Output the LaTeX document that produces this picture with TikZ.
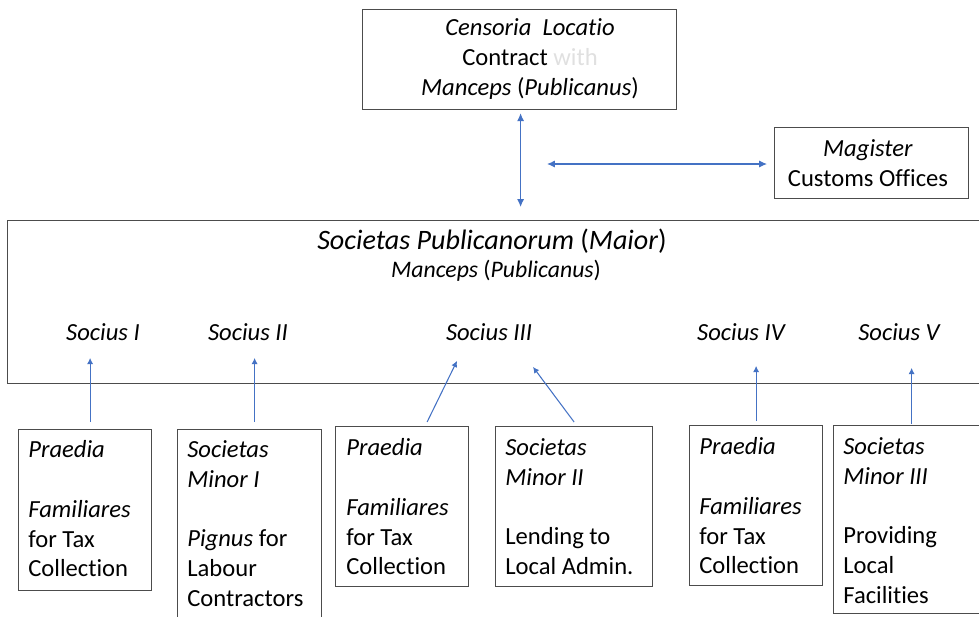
\documentclass[tikz,border=0pt]{standalone}
\usepackage{fontspec}
\setmainfont[Ligatures=NoCommon]{Carlito}
\usetikzlibrary{arrows.meta,calc}
\definecolor{arrowblue}{HTML}{4472C4}

\begin{document}
\begin{tikzpicture}[x=0.02cm,y=-0.02cm,
  frame/.style={draw=black!70,line width=0.7pt,inner sep=0pt,anchor=north west},
  body/.style={anchor=north west,align=left,inner sep=0pt,font=\fontsize{14pt}{17pt}\selectfont},
  socname/.style={inner sep=0pt,font=\fontsize{14pt}{17pt}\selectfont\itshape},
  link/.style={draw=arrowblue,line width=0.6pt,-{Latex[length=3.5pt,width=3.5pt]}},
  dlink/.style={draw=arrowblue,line width=0.6pt,{Latex[length=4.5pt,width=4pt]}-{Latex[length=4.5pt,width=4pt]}}]
\useasboundingbox (0,0) rectangle (979,616);
\clip (0,0) rectangle (979,616);

\node[frame,minimum width=6.28cm,minimum height=2cm] (cens) at (362,9) {};
\node[align=center,inner sep=0pt,font=\fontsize{14pt}{17pt}\selectfont] (censt) at (530,59)
  {\textit{Censoria\ \ Locatio}\\Contract \textcolor{black!12}{with}\\\textit{Manceps} (\textit{Publicanus})};

\node[frame,minimum width=3.88cm,minimum height=1.42cm] (mag) at (774,127) {};
\node[align=center,inner sep=0pt,font=\fontsize{14pt}{17pt}\selectfont] (magt) at (868,163)
  {\textit{Magister}\\Customs Offices};

\node[frame,minimum width=20cm,minimum height=3.26cm] (soc) at (7,220) {};
\node[inner sep=0pt,font=\fontsize{16pt}{19pt}\selectfont] (maior) at (492,241)
  {\textit{Societas Publicanorum} (\textit{Maior})};
\node[inner sep=0pt,font=\fontsize{13.5pt}{16pt}\selectfont] (manc) at (496,271)
  {\textit{Manceps} (\textit{Publicanus})};
\node[socname] (s1) at (103,332) {Socius I};
\node[socname] (s2) at (248,332) {Socius II};
\node[socname] (s3) at (489,332) {Socius III};
\node[socname] (s4) at (741,332) {Socius IV};
\node[socname] (s5) at (899,332) {Socius V};

\node[frame,minimum width=2.66cm,minimum height=3.22cm] (p1) at (18,429) {};
\node[body] (p1t) at (28,440) {\textit{Praedia}\\[17pt]\textit{Familiares}\\for Tax\\Collection};
\node[frame,minimum width=2.88cm,minimum height=4cm] (p2) at (177,429) {};
\node[body] (p2t) at (187,440) {\textit{Societas}\\\textit{Minor I}\\[17pt]\textit{Pignus} for\\Labour\\Contractors};
\node[frame,minimum width=2.66cm,minimum height=3.2cm] (p3) at (335,426) {};
\node[body] (p3t) at (346,438) {\textit{Praedia}\\[17pt]\textit{Familiares}\\for Tax\\Collection};
\node[frame,minimum width=3.14cm,minimum height=3.2cm] (p4) at (495,426) {};
\node[body] (p4t) at (505,438) {\textit{Societas}\\\textit{Minor II}\\[17pt]Lending to\\Local Admin.};
\node[frame,minimum width=2.66cm,minimum height=3.2cm] (p5) at (689,425) {};
\node[body] (p5t) at (699,437) {\textit{Praedia}\\[17pt]\textit{Familiares}\\for Tax\\Collection};
\node[frame,minimum width=3.2cm,minimum height=3.76cm] (p6) at (833,425) {};
\node[body] (p6t) at (843,437) {\textit{Societas}\\\textit{Minor III}\\[17pt]Providing\\Local\\Facilities};

\draw[dlink] ($(cens.south)+(1,3)$) -- ($(cens.south |- soc.north)+(1,-13)$);
\coordinate (hl) at (547,164);
\draw[dlink,shorten >=0.14cm] (hl) -- (hl -| mag.west);

\draw[link] ($(p1.north)+(5,-7)$) -- ($(p1.north |- s1.south)+(5,17)$);
\draw[link] ($(p2.north)+(5,-7)$) -- ($(p2.north |- s2.south)+(5,17)$);
\draw[link] ($(p3.north)+(25,-4)$) -- ($(s3.south)+(-32,20)$);
\draw[link] ($(p4.north)+(0,-4)$) -- ($(s3.south)+(44,26)$);
\draw[link] ($(p5.north)+(0,-4)$) -- ($(p5.north |- s4.south)+(0,25)$);
\draw[link] ($(p6.north)+(-2,-1)$) -- ($(p6.north |- s5.south)+(-2,27)$);
\end{tikzpicture}
\end{document}
